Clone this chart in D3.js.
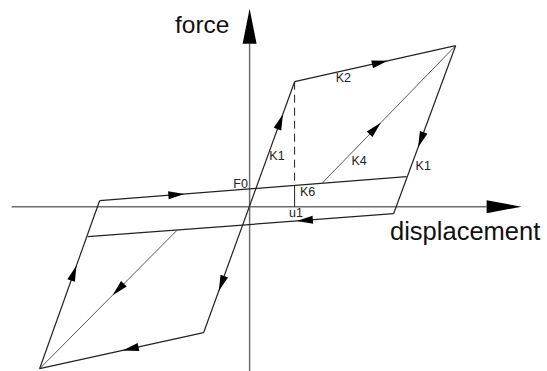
<!DOCTYPE html>
<html>
<head>
<meta charset="utf-8">
<script src="https://cdn.jsdelivr.net/npm/d3@7"></script>
<style>
  html, body { margin: 0; padding: 0; background: #fff; }
  svg { display: block; }
  text { font-family: "Liberation Sans", Arial, sans-serif; }
</style>
</head>
<body>
<svg id="chart" width="547" height="371"></svg>
<script>
// Key points of the hysteresis loop, [displacement, force]
const pointNames = ["O", "A", "B", "C", "D", "G", "H", "E", "J", "P", "Q"];
const pointU     = [0,   4.5, 20.6, 15.7, 14.4, -15.0, -16.2, -21.0, -4.6,  7.2, -7.2];
const pointF     = [0,  12.5, 16.1,  3.0, -0.7,   0.6,  -3.0, -16.2, -12.6, 2.3, -2.3];

// Branches of the loop (start point, end point)
const branchFrom = ["J", "A", "B", "D", "E", "G", "P", "Q", "E"];
const branchTo   = ["A", "B", "D", "H", "G", "C", "B", "E", "J"];
const branchThin = [false, false, false, false, false, false, true, true, false];

// Direction arrows: branch (from -> to) and fraction along it
const arrowFrom = ["O", "O", "A", "B", "D", "E", "G", "P", "Q", "J"];
const arrowTo   = ["A", "J", "B", "D", "H", "G", "C", "B", "E", "E"];
const arrowAt   = [0.68, 0.61, 0.53, 0.56, 0.29, 0.57, 0.25, 0.40, 0.43, 0.445];

// Stiffness / level labels
const labelText = ["K1", "K2", "K4", "K1", "F0", "K6", "u1"];
const labelU    = [1.97, 8.61, 10.18, 16.6, -1.63, 5.04, 3.94];
const labelF    = [4.72, 12.5,  4.17, 3.67,  1.84, 1.07, -1.06];

// Axis extents
const axisU = [-23.8, 27.2];
const axisF = [-16.5, 19.8];

const svg = d3.select("#chart");
const x = d3.scaleLinear().domain([-20, 20]).range([49.6, 449.6]);
const y = d3.scaleLinear().domain([-15, 15]).range([356.7, 56.7]);

const pt = {};
pointNames.forEach((n, i) => { pt[n] = [pointU[i], pointF[i]]; });

const AXIS = "#6f6f6f", INK = "#222";

// Axes with solid arrowheads
function axisArrow(x0, y0, x1, y1, len, half) {
  const dx = x1 - x0, dy = y1 - y0, L = Math.hypot(dx, dy);
  const ux = dx / L, uy = dy / L;
  const bx = x1 - ux * len, by = y1 - uy * len;
  svg.append("line").attr("x1", x0).attr("y1", y0).attr("x2", bx).attr("y2", by)
    .attr("stroke", AXIS).attr("stroke-width", 1.5);
  svg.append("path")
    .attr("d", `M${x1},${y1}L${bx - uy * half},${by + ux * half}L${bx + uy * half},${by - ux * half}Z`)
    .attr("fill", "#000");
}
axisArrow(x(axisU[0]), y(0), x(axisU[1]), y(0), 35, 6.5);
axisArrow(x(0), y(axisF[0]), x(0), y(axisF[1]), 35, 7);

// Dashed guide from the yield point down to the F0 branch, then a solid tick to the axis
const A = pt.A, G = pt.G, C = pt.C;
const fAtA = G[1] + (A[0] - G[0]) * (C[1] - G[1]) / (C[0] - G[0]);
svg.append("line")
  .attr("x1", x(A[0])).attr("y1", y(A[1]))
  .attr("x2", x(A[0])).attr("y2", y(fAtA))
  .attr("stroke", INK).attr("stroke-width", 1).attr("stroke-dasharray", "8,5");
svg.append("line")
  .attr("x1", x(A[0])).attr("y1", y(fAtA))
  .attr("x2", x(A[0])).attr("y2", y(0))
  .attr("stroke", INK).attr("stroke-width", 1);

// Loop branches
const line = d3.line().x(d => x(d[0])).y(d => y(d[1]));
branchFrom.forEach((f, i) => {
  svg.append("path")
    .attr("d", line([pt[f], pt[branchTo[i]]]))
    .attr("fill", "none")
    .attr("stroke", branchThin[i] ? "#444" : INK)
    .attr("stroke-width", branchThin[i] ? 0.9 : 1.2);
});

// Direction arrows
const ALEN = 16, AHALF = 4;
arrowFrom.forEach((f, i) => {
  const p0 = pt[f], p1 = pt[arrowTo[i]], t = arrowAt[i];
  const x0 = x(p0[0]), y0 = y(p0[1]), x1 = x(p1[0]), y1 = y(p1[1]);
  const cx = x0 + (x1 - x0) * t, cy = y0 + (y1 - y0) * t;
  const L = Math.hypot(x1 - x0, y1 - y0), ux = (x1 - x0) / L, uy = (y1 - y0) / L;
  const tx = cx + ux * ALEN / 2, ty = cy + uy * ALEN / 2;
  const bx = cx - ux * ALEN / 2, by = cy - uy * ALEN / 2;
  svg.append("path")
    .attr("d", `M${tx},${ty}L${bx - uy * AHALF},${by + ux * AHALF}L${bx + uy * AHALF},${by - ux * AHALF}Z`)
    .attr("fill", "#000");
});

// Labels
labelText.forEach((s, i) => {
  svg.append("text").attr("x", x(labelU[i])).attr("y", y(labelF[i]))
    .attr("font-size", 12.5).attr("fill", "#222").text(s);
});

// Axis titles
svg.append("text").attr("x", 175).attr("y", 33).attr("font-size", 24.5).attr("fill", "#111").text("force");
svg.append("text").attr("x", 390).attr("y", 240).attr("font-size", 25.5).attr("fill", "#111").text("displacement");
</script>
</body>
</html>
